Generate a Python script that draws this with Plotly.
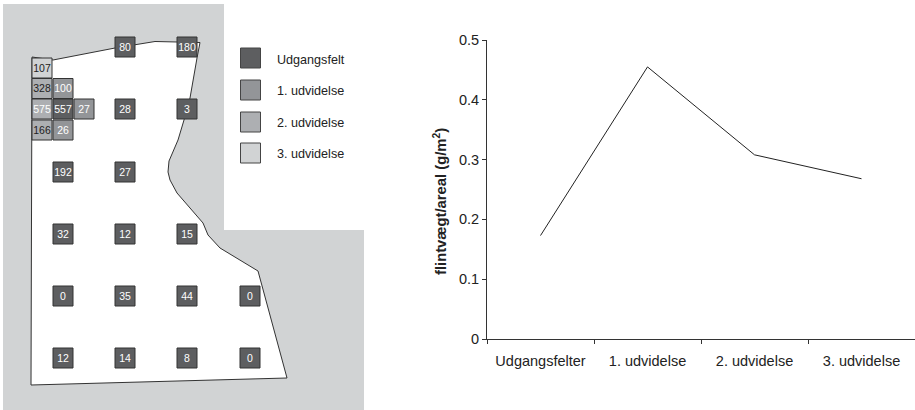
import plotly.graph_objects as go

# --- Line chart data ---
categories = ["Udgangsfelter", "1. udvidelse", "2. udvidelse", "3. udvidelse"]
density = [0.173, 0.455, 0.308, 0.268]
y_ticks = [0, 0.1, 0.2, 0.3, 0.4, 0.5]
y_tick_labels = ["0", "0.1", "0.2", "0.3", "0.4", "0.5"]

cell_x = [125, 187, 42, 42, 63, 42, 63, 84, 125, 187, 42, 63, 63, 125, 63, 125, 187,
          63, 125, 187, 250, 63, 125, 187, 250]
cell_y = [47, 47, 68, 88.5, 88.5, 109, 109, 109, 109, 109, 130, 130, 172, 172, 234, 234, 234,
          296, 296, 296, 296, 358, 358, 358, 358]
cell_value = [80, 180, 107, 328, 100, 575, 557, 27, 28, 3, 166, 26, 192, 27, 32, 12, 15,
              0, 35, 44, 0, 12, 14, 8, 0]
cell_stage = [0, 0, 3, 2, 1, 2, 0, 1, 0, 0, 2, 1, 0, 0, 0, 0, 0,
              0, 0, 0, 0, 0, 0, 0, 0]

stage_names = ["Udgangsfelt", "1. udvidelse", "2. udvidelse", "3. udvidelse"]
stage_colors = ["#5d5e60", "#939598", "#adafb2", "#d1d3d4"]
stage_text = ["#ffffff", "#ffffff", "#ffffff", "#222222"]
legend_y = [58, 90, 122, 153]
legend_text_y = [60.5, 92, 123.5, 155]

site_x = [3, 224, 224, 364, 364, 3, 3]
site_y = [4, 4, 230, 230, 410, 410, 4]

field_x = [31, 31.5, 32, 53, 115, 155, 177, 200, 197, 190, 184, 178, 169, 168, 170, 177, 203, 208, 220, 258, 287, 31]
field_y = [385, 140, 57, 60, 48, 41.5, 42, 42.5, 58, 98, 120, 140, 161, 172, 180, 193, 223, 235, 248, 271, 378, 385]

W, H = 915, 410
FONT = "Liberation Sans"
fig = go.Figure()

# Map panel
fig.add_trace(go.Scatter(x=site_x, y=site_y, mode="lines", fill="toself", fillcolor="#d1d3d4",
                         line=dict(width=0), hoverinfo="skip", showlegend=False))
fig.add_trace(go.Scatter(x=field_x, y=field_y, mode="lines", fill="toself", fillcolor="#ffffff",
                         line=dict(color="#333333", width=1), hoverinfo="skip", showlegend=False))

fig.add_trace(go.Scatter(
    x=cell_x, y=cell_y, mode="markers",
    marker=dict(symbol="square", size=20, color=[stage_colors[s] for s in cell_stage],
                line=dict(color="#333333", width=1)),
    hoverinfo="skip", showlegend=False))
fig.add_trace(go.Scatter(
    x=cell_x, y=[v + 1 for v in cell_y], mode="text",
    text=[str(v) for v in cell_value], textposition="middle center",
    textfont=dict(family=FONT, size=10.5,
                  color=[stage_text[3] if v in (328, 166) else stage_text[s] for v, s in zip(cell_value, cell_stage)]),
    hoverinfo="skip", showlegend=False))

fig.add_trace(go.Scatter(
    x=[250.5] * 4, y=legend_y, mode="markers",
    marker=dict(symbol="square", size=20, color=stage_colors, line=dict(color="#444444", width=1)),
    hoverinfo="skip", showlegend=False))
fig.add_trace(go.Scatter(
    x=[277] * 4, y=legend_text_y, mode="text", text=stage_names, textposition="middle right",
    textfont=dict(family=FONT, size=12.6, color="#222222"),
    hoverinfo="skip", showlegend=False))

# Line panel
fig.add_trace(go.Scatter(x=categories, y=density, mode="lines", xaxis="x2", yaxis="y2",
                         line=dict(color="#222222", width=1), showlegend=False))

fig.update_layout(
    template="none",
    width=W, height=H, autosize=False,
    margin=dict(l=0, r=0, t=0, b=0),
    paper_bgcolor="#ffffff", plot_bgcolor="rgba(0,0,0,0)",
    xaxis=dict(domain=[0, 370 / W], range=[0, 370], visible=False, fixedrange=True, automargin=False),
    yaxis=dict(domain=[0, 1], range=[410, 0], visible=False, fixedrange=True, automargin=False),
    xaxis2=dict(domain=[487 / W, 1], anchor="y2", type="category", automargin=False,
                categoryorder="array", categoryarray=categories,
                range=[-0.5, 3.5], tickson="boundaries", ticks="outside", ticklen=4, tickwidth=1,
                ticklabelstandoff=9,
                tickcolor="#333333", showline=True, linecolor="#333333", linewidth=1, showgrid=False,
                zeroline=False, tickfont=dict(family=FONT, size=14.5, color="#222222")),
    yaxis2=dict(domain=[(H - 339) / H, (H - 40) / H], anchor="x2", range=[0, 0.5], automargin=False,
                tickvals=y_ticks, ticktext=y_tick_labels, ticks="outside", ticklen=4, tickwidth=1,
                tickcolor="#333333", showline=True, linecolor="#333333", linewidth=1, showgrid=False,
                zeroline=False, tickfont=dict(family=FONT, size=14.5, color="#222222")),
    annotations=[dict(text="<b>flintvægt/areal (g/m<sup>2</sup>)</b>", textangle=-90, showarrow=False,
                      xref="paper", yref="paper", x=440 / W, y=(H - 202) / H,
                      xanchor="center", yanchor="middle",
                      font=dict(family=FONT, size=14.8, color="#222222"))],
)

fig.write_html("out.html", config={"displayModeBar": False},
               post_script="document.body.style.margin='0';document.body.style.overflow='hidden';")
